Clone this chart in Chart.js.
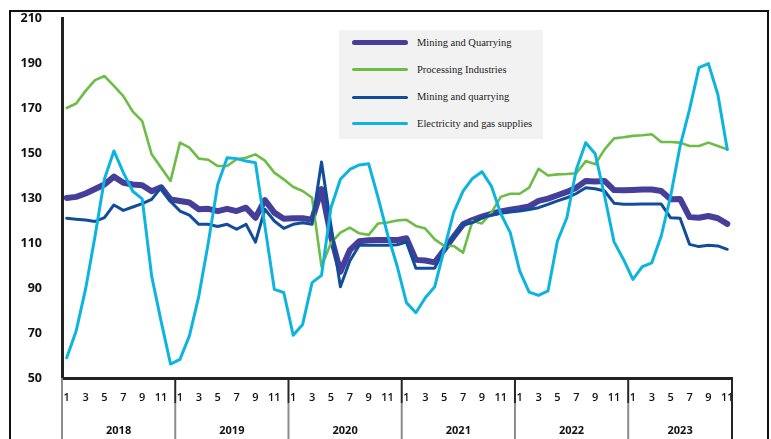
<!DOCTYPE html>
<html lang="en">
<head>
  <meta charset="UTF-8">
  <title>Mining, processing and utilities index</title>
  <script src="https://cdn.jsdelivr.net/npm/chart.js"></script>
</head>
<body>
<style>
    body {
        margin: 0;
        background-color: #ffffff;
    }

    .wrapper-main {
        position: relative;
        width: 771px;
        height: 439px;
        overflow: hidden;
    }

    .frame {
        position: absolute;
        left: 9px;
        top: 10px;
        width: 756px;
        height: 500px;
        border: 2px solid #111;
        pointer-events: none;
    }

    .legend-box {
        position: absolute;
        left: 339px;
        top: 30px;
        width: 204px;
        height: 109px;
        background-color: #f2f2f2;
        font-family: "Liberation Serif", "DejaVu Serif", serif;
        font-size: 10.5px;
        color: #222;
    }

    .legend-item {
        position: absolute;
        left: 13px;
        height: 14px;
        width: 190px;
    }

    .legend-line {
        position: absolute;
        left: 0;
        width: 56px;
        border-radius: 3px;
    }

    .legend-text {
        position: absolute;
        left: 65px;
        top: 0;
        line-height: 14px;
        white-space: nowrap;
    }
</style>

<div class="wrapper-main">
  <canvas id="myChart" width="771" height="439"></canvas>
  <div class="frame"></div>
  <div class="legend-box" id="legend"></div>
</div>

<script>
    const years = ['2018', '2019', '2020', '2021', '2022', '2023'];
    const monthsPerYear = [1, 2, 3, 4, 5, 6, 7, 8, 9, 10, 11, 12];
    const lastMonth = 11;

    // Mining and Quarrying (thick)
    const miningTotal = [
        130, 130.5, 132, 134, 136, 139.5, 136.8, 136, 135.7, 133, 134.8, 129.4,
        128.7, 128, 125, 125.2, 124.2, 125.2, 124.2, 125.7, 121.2, 129.1, 123.5, 120.8,
        121, 121, 120.4, 134, 113, 97.2, 106.8, 110.8, 111.2, 111.3, 111.3, 111.3,
        112.1, 102.5, 102.2, 101.4, 107, 112.8, 118.3, 120.2, 121.7, 123, 124, 124.8,
        125.5, 126.3, 128.7, 129.7, 131.2, 132.7, 134.6, 137.6, 137.3, 137.6, 133.5,
        133.4, 133.6, 133.8, 133.8, 133.1, 129.4, 129.6, 121.5, 121.2, 122, 121, 118.5
    ];

    const processing = [
        170, 172, 177.6, 182.4, 184.2, 179.8, 175.3, 168.4, 164.2, 149.4, 143.5, 137.6,
        154.6, 152.4, 147.5, 147, 144.2, 144.2, 147.2, 147.9, 149.4, 146.6, 141.3, 138.3,
        134.9, 133.1, 130.1, 99.5, 110, 114.6, 116.8, 114.3, 113.6, 118.7, 119.1, 120,
        120.3, 117.6, 116.4, 111.6, 108.7, 108.7, 105.7, 119.8, 118.7, 123.5, 130.5, 131.9,
        131.9, 134.6, 143, 140, 140.5, 140.7, 141, 146.4, 145, 151.6, 156.5,
        157, 157.6, 157.9, 158.3, 154.9, 154.9, 154.6, 153.1, 153.1, 154.6, 153.1, 151.6
    ];

    // Mining and quarrying (thin)
    const miningSub = [
        121, 120.6, 120.2, 119.6, 121.3, 126.9, 124.5, 126, 127.5, 129.4, 134.6, 128.5,
        124.2, 122.4, 118.3, 118.3, 117.3, 118.3, 116.1, 118.3, 110.4, 125, 119.8, 116.5,
        118.3, 119, 118.3, 146, 117.8, 90.6, 102, 109, 109, 109, 109, 109.2,
        110.4, 98.8, 98.8, 98.8, 107.2, 112.6, 118.3, 119, 121.2, 122.4, 123.2, 123.8,
        124.2, 124.9, 125.7, 127.2, 128.7, 130.1, 132, 134.6, 134.1, 133.1, 127.7,
        127.2, 127.2, 127.3, 127.3, 127.3, 121.2, 121, 109.4, 108.4, 109, 108.7, 107.2
    ];

    const electricity = [
        59, 70.9, 89.6, 113, 138.4, 150.9, 141.3, 133, 129.6, 95.3, 75.3, 56.2,
        58.3, 68.7, 86.4, 110, 136, 147.9, 147.5, 146.4, 145.7, 117.6, 89.4, 88,
        69, 73.8, 92.4, 95.6, 125.7, 138.3, 142.7, 144.7, 145.2, 130.1, 113.8, 100,
        83.5, 79, 85.7, 90.6, 107.2, 123.5, 133.1, 138.7, 141.7, 135.3, 123, 114.6,
        97.6, 88.2, 86.7, 88.7, 110.9, 121.2, 142.7, 154.6, 149.7, 130.9, 110.5,
        102.7, 93.8, 99.5, 101.2, 113.1, 130.9, 153.1, 169.4, 187.9, 189.7, 176, 151.6
    ];

    const seriesNames = [
        'Mining and Quarrying',
        'Processing Industries',
        'Mining and quarrying',
        'Electricity and gas supplies'
    ];
    const seriesColors = ['#463f9a', '#6cbd45', '#114d9b', '#0db4e0'];
    const seriesWidths = [6, 2.6, 3, 3];

    // month labels and year positions
    const labels = [];
    years.forEach(function (year, k) {
        monthsPerYear.forEach(function (m) {
            if (k < years.length - 1 || m <= lastMonth) {
                labels.push(m);
            }
        });
    });
    const n = labels.length;
    const yearCenters = years.map(function (y, k) {
        const first = 12 * k;
        const last = Math.min(12 * k + 11, n - 1);
        return (first + last) / 2;
    });
    const yearBounds = years.map(function (y, k) {
        return 12 * k - 0.5;
    }).concat([n - 0.5]);

    const allSeries = [miningTotal, processing, miningSub, electricity];
    const drawOrder = [4, 3, 2, 1];

    const data = {
        labels: labels,
        datasets: allSeries.map(function (values, i) {
            return {
                label: seriesNames[i],
                data: values,
                borderColor: seriesColors[i],
                backgroundColor: seriesColors[i],
                borderWidth: seriesWidths[i],
                pointRadius: 0,
                tension: 0,
                fill: false,
                borderJoinStyle: 'round',
                borderCapStyle: 'round',
                order: drawOrder[i]
            };
        })
    };

    // separators between years under the axis
    const yearSeparators = {
        id: 'yearSeparators',
        afterDraw: function (chart) {
            const ctx = chart.ctx;
            const scale = chart.scales.years;
            const top = chart.chartArea.bottom;
            ctx.save();
            yearBounds.forEach(function (b, k) {
                const x = scale.getPixelForValue(b);
                ctx.lineWidth = 2;
                if (k > 0) {
                    ctx.strokeStyle = '#262626';
                    ctx.beginPath();
                    ctx.moveTo(x, top);
                    ctx.lineTo(x, top + 25);
                    ctx.stroke();
                }
                ctx.strokeStyle = k === yearBounds.length - 1 ? '#262626' : '#8c8c8c';
                ctx.beginPath();
                ctx.moveTo(x, k > 0 ? top + 25 : top);
                ctx.lineTo(x, chart.height);
                ctx.stroke();
            });
            ctx.restore();
        }
    };

    const options = {
        responsive: false,
        animation: false,
        layout: {
            padding: {left: 0, right: 39, top: 18, bottom: 0}
        },
        plugins: {
            legend: {display: false},
            tooltip: {enabled: false}
        },
        scales: {
            x: {
                type: 'category',
                position: 'bottom',
                weight: 0,
                offset: true,
                grid: {display: false, drawTicks: false},
                border: {display: true, color: '#222', width: 3},
                ticks: {
                    autoSkip: false,
                    maxRotation: 0,
                    padding: 13,
                    color: '#111',
                    font: {family: 'Open Sans', size: 11, weight: '600'},
                    callback: function (value, index) {
                        return labels[index] % 2 === 1 ? String(labels[index]) : '';
                    }
                },
                afterFit: function (scale) {
                    scale.height = 31;
                }
            },
            years: {
                type: 'linear',
                position: 'bottom',
                weight: 1,
                min: -0.5,
                max: n - 0.5,
                grid: {display: false, drawTicks: false},
                border: {display: false},
                afterBuildTicks: function (scale) {
                    scale.ticks = yearCenters.map(function (v) {
                        return {value: v};
                    });
                },
                ticks: {
                    autoSkip: false,
                    maxRotation: 0,
                    padding: 15,
                    color: '#111',
                    font: {family: 'Open Sans', size: 11, weight: 'bold'},
                    callback: function (value, index) {
                        return years[index];
                    }
                },
                afterFit: function (scale) {
                    scale.height = 30;
                }
            },
            y: {
                min: 50,
                max: 210,
                // invisible tick marks push the labels away from the axis
                grid: {
                    display: true,
                    drawOnChartArea: false,
                    drawTicks: true,
                    tickLength: 17,
                    color: 'rgba(0,0,0,0)'
                },
                border: {display: true, color: '#222', width: 3},
                ticks: {
                    stepSize: 20,
                    padding: 3,
                    color: '#111',
                    font: {family: 'Open Sans', size: 12.5, weight: 'bold'}
                },
                afterFit: function (scale) {
                    scale.width = 62;
                }
            }
        }
    };

    const config = {
        type: 'line',
        data: data,
        options: options,
        plugins: [yearSeparators]
    };

    const myChart = new Chart(document.getElementById('myChart'), config);

    // legend in the grey box
    const legendRows = [12.5, 39.5, 67, 93.5];
    const legend = document.getElementById('legend');
    seriesNames.forEach(function (name, i) {
        const item = document.createElement('div');
        item.className = 'legend-item';
        item.style.top = (legendRows[i] - 7) + 'px';
        const line = document.createElement('div');
        line.className = 'legend-line';
        const h = i === 0 ? 5 : 3;
        line.style.height = h + 'px';
        line.style.top = (7 - h / 2) + 'px';
        line.style.backgroundColor = seriesColors[i];
        const text = document.createElement('div');
        text.className = 'legend-text';
        text.textContent = name;
        item.appendChild(line);
        item.appendChild(text);
        legend.appendChild(item);
    });
</script>
</body>
</html>
